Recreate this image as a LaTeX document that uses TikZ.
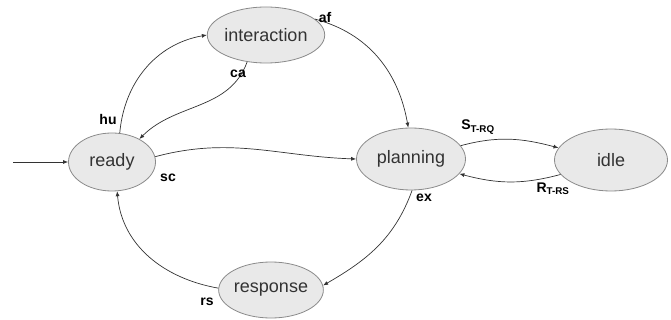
\documentclass[tikz,border=0pt]{standalone}
\usepackage{fontspec}
\setmainfont{Liberation Sans}
\usetikzlibrary{arrows.meta,shapes.geometric}
\definecolor{stfill}{HTML}{E9E9E9}
\definecolor{stline}{HTML}{8A8A8A}
\definecolor{edge}{HTML}{333333}
\tikzset{
  state/.style={ellipse,draw=stline,fill=stfill,line width=0.8pt,inner sep=0pt,
    font=\fontsize{18}{18}\selectfont,text=black!80},
  lbl/.style={font=\bfseries\fontsize{14}{14}\selectfont,inner sep=0pt},
  conn/.style={draw=edge,line width=0.7pt,-{Latex[length=5pt,width=4pt]}}
}
\begin{document}
\begin{tikzpicture}[x=1pt,y=-1pt]
\useasboundingbox (0,0) rectangle (671,320);
\node[state,minimum width=87pt,minimum height=58pt] (ready) at (112,162) {ready};
\node[state,minimum width=98pt,minimum height=56pt] (inter) at (266,35) {interaction};
\node[state,minimum width=109pt,minimum height=62pt] (plan) at (411,159) {planning};
\node[state,minimum width=113pt,minimum height=62pt] (idle) at (611,160) {idle};
\node[state,minimum width=100pt,minimum height=56pt] (resp) at (271,290) {response};
\coordinate (start) at (13,162);
\draw[conn] (start) -- (ready);
\draw[conn] (ready.75) to[out=85,in=190] (inter.west);
\draw[conn] (inter.235) to[out=-110,in=45] (ready.40);
\draw[conn] (inter.18) to[out=-15,in=100] (plan.95);
\draw[conn] (ready.7) to[out=15,in=178] (plan.west);
\draw[conn] (plan.15) to[out=15,in=165] (idle.167);
\draw[conn] (idle.196) to[out=195,in=-15] (plan.-17);
\draw[conn] (plan.-88) to[out=-110,in=30] (resp.5);
\draw[conn] (resp.178) to[out=170,in=-85] (ready.-80);
\node[lbl] (laf) at (325,17) {af};
\node[lbl] (lca) at (238,74) {ca};
\node[lbl] (lhu) at (108,119) {hu};
\node[lbl] (lsc) at (168,178) {sc};
\node[lbl] (lsrq) at (478,127) {S\textsubscript{T-RQ}};
\node[lbl] (lrrs) at (553,189) {R\textsubscript{T-RS}};
\node[lbl] (lex) at (424,198) {ex};
\node[lbl] (lrs) at (207,302) {rs};
\end{tikzpicture}
\end{document}
